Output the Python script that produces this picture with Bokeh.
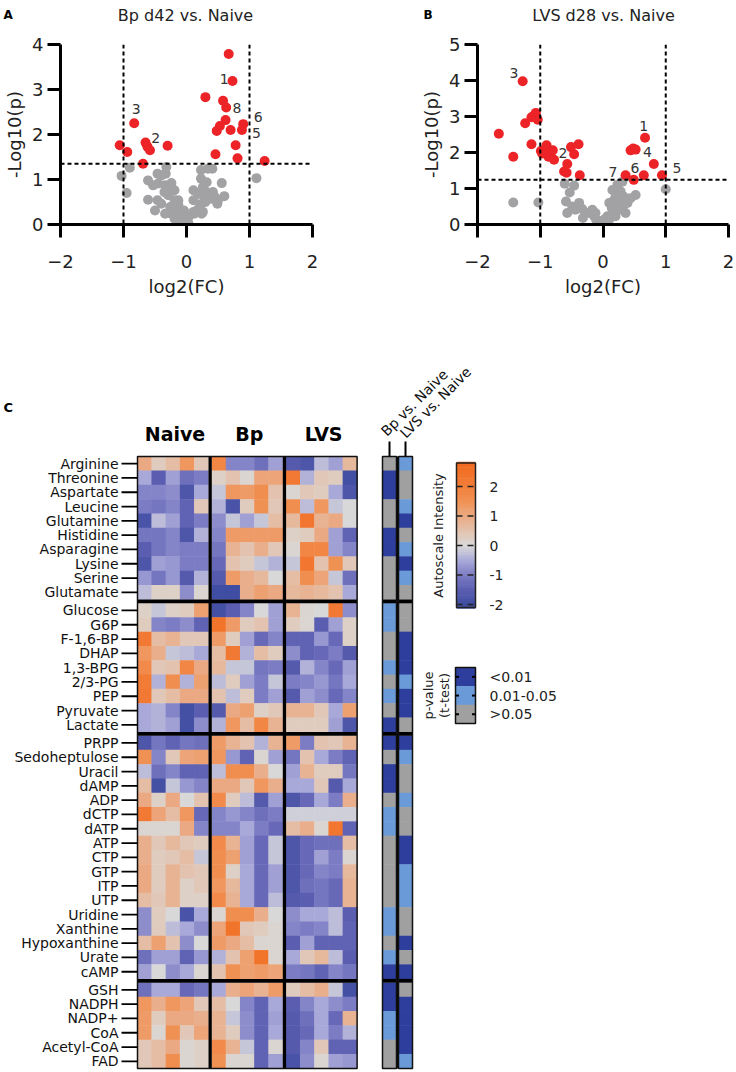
import numpy as np
from bokeh.plotting import figure
from bokeh.models import Range1d, Label, Span, LinearColorMapper, ColumnDataSource
from bokeh.layouts import column, row
from bokeh.embed import file_html
from bokeh.resources import INLINE
from bokeh.core.properties import value
from bokeh.transform import transform

FONT = "DejaVu Sans"

# ---------------- Volcano A : Bp d42 vs. Naive ----------------
a_sig_x = [0.67, 0.73, 0.30, 0.58, 0.63, 0.62, 0.53, 0.48, 0.70, 0.90, 0.88, 0.78, 0.81, 0.46, 1.24,
           -0.83, -0.65, -0.62, -0.58, -0.30, -1.06, -0.94, -0.69]
a_sig_y = [3.79, 3.19, 2.83, 2.75, 2.60, 2.32, 2.19, 2.08, 2.10, 2.23, 2.10, 1.76, 1.47, 1.56, 1.41,
           2.25, 1.82, 1.73, 1.65, 1.75, 1.76, 1.61, 1.35]
a_ns_x = [-0.90, -1.03, -0.95, -0.61, -0.46, -0.32, -0.33, -0.40, -0.45, -0.34, -0.24, -0.61, -0.46, -0.40,
          -0.29, -0.19, -0.13, -0.26, -0.50, -0.34, -0.24, -0.19, -0.11, -0.05, 0.00, 0.03, -0.08, -0.13,
          -0.19, 0.23, 0.34, 0.41, 0.23, 0.32, 0.26, 0.56, 0.11, 0.19, 0.32, 0.42, 0.40, 0.29, 0.21, 0.16,
          0.12, 0.24, 0.30, 0.50, 0.60, 0.45, 0.49, 0.24, 0.11, 1.11, -0.35, -0.53, -0.29, -0.13, -0.04,
          0.03, 0.11, 0.26, -0.19]
a_ns_y = [1.26, 1.08, 0.70, 0.98, 1.13, 1.28, 1.13, 1.09, 0.91, 0.87, 0.92, 0.55, 0.54, 0.46,
          0.65, 0.54, 0.45, 0.39, 0.31, 0.24, 0.24, 0.13, 0.09, 0.05, 0.01, 0.03, 0.24, 0.35,
          0.31, 1.21, 1.24, 1.24, 1.02, 0.94, 0.83, 0.92, 0.76, 0.68, 0.72, 0.72, 0.57, 0.54, 0.39, 0.31,
          0.24, 0.24, 0.50, 0.54, 0.63, 0.61, 0.46, 0.46, 0.54, 1.03, 0.72, 0.87, 0.76, 0.54, 0.31,
          0.16, 0.28, 0.28, 0.76]
a_lab_text = ["1", "8", "6", "5", "3", "2"]
a_lab_x = [0.60, 0.80, 1.14, 1.11, -0.80, -0.49]
a_lab_y = [3.24, 2.60, 2.40, 2.04, 2.56, 1.93]
a_fc_cut = [-1, 1]
a_p_cut = 1.35
a_yticks = [0, 1, 2, 3, 4]

# ---------------- Volcano B : LVS d28 vs. Naive ----------------
b_sig_x = [-1.28, -1.24, -1.14, -1.10, -1.07, -1.04, -1.66, -1.43, -1.14, -0.99, -0.90, -0.91, -0.87, -0.80,
           -0.78, -0.97, -0.51, -0.39, -0.46, -0.57, -0.62, -0.58, -0.37, 0.67, 0.44, 0.48, 0.52, 0.81,
           0.65, 0.36, 0.49, 0.94]
b_sig_y = [3.98, 2.81, 2.98, 3.03, 3.10, 2.91, 2.52, 1.88, 2.23, 2.04, 2.20, 1.97, 1.88, 2.06,
           1.80, 1.97, 2.15, 2.23, 1.95, 1.68, 1.47, 1.44, 1.37, 2.41, 2.06, 2.11, 2.08, 1.68,
           1.37, 1.37, 1.24, 1.37]
b_ns_x = [-1.43, -1.03, -0.61, -0.53, -0.46, -0.59, -0.57, -0.38, -0.33, -0.32, -0.22, -0.17, -0.14, -0.11,
          -0.06, -0.01, 0.04, 0.10, 0.15, 0.14, 0.18, 0.20, 0.23, 0.31, 0.27, 0.33, 0.39, 0.36, 0.25,
          0.20, 0.44, 0.52, 0.28, 1.00, 0.07, 0.02, -0.12, 0.15, 0.31, 0.23, -0.49, -0.44, -0.28, 0.15, 0.10]
b_ns_y = [0.61, 0.61, 1.13, 0.89, 1.08, 0.64, 0.32, 0.60, 0.43, 0.18, 0.32, 0.41, 0.23, 0.14,
          0.09, 0.05, 0.06, 0.14, 0.27, 0.46, 0.69, 0.87, 1.10, 1.19, 0.69, 0.78, 0.60, 0.32, 0.41,
          0.23, 0.73, 0.82, 0.92, 0.98, 0.23, 0.14, 0.32, 0.60, 0.50, 0.50, 0.50, 0.41, 0.32, 0.96, 0.60]
b_lab_text = ["3", "2", "1", "4", "6", "5", "7"]
b_lab_x = [-1.42, -0.64, 0.65, 0.71, 0.51, 1.18, 0.16]
b_lab_y = [4.21, 1.99, 2.75, 2.01, 1.56, 1.56, 1.45]
b_fc_cut = [-1, 1]
b_p_cut = 1.24
b_yticks = [0, 1, 2, 3, 4, 5]

x_ticks = [-2, -1, 0, 1, 2]
panel_letters = ["A", "B"]
panel_titles = ["Bp d42 vs. Naive", "LVS d28 vs. Naive"]

# ---------------- Heatmap (C) ----------------
amino_names = ["Arginine", "Threonine", "Aspartate", "Leucine", "Glutamine", "Histidine",
               "Asparagine", "Lysine", "Serine", "Glutamate"]
amino_vals = [
    [1.0, 0.3, 0.6, 1.4, 0.4, 1.8, -0.9, -0.9, -1.2, -0.6, -1.6, -1.7, -0.3, -0.6, 0.7],
    [-0.5, -1.5, -0.6, -1.2, -1.0, 0.2, 0.5, 0.1, 1.1, 1.1, 2.2, -0.4, 0.4, 0.3, -1.9],
    [-0.9, -0.9, -0.8, -1.7, -0.5, -0.2, 1.4, 1.3, 1.6, 0.5, 0.1, 0.4, 0.3, -0.5, -1.7],
    [-1.0, -1.1, -0.9, -1.4, 0.4, -0.4, -1.8, 0.3, 1.5, 0.4, 1.6, -0.3, 1.4, -0.2, 0.0],
    [-1.8, -0.3, -0.6, -1.4, -1.0, -0.8, -0.2, -0.6, -0.2, 0.6, 0.7, 2.3, 0.8, 1.0, 0.0],
    [-1.1, -1.1, -0.9, -1.7, -0.4, -0.9, 1.3, 1.3, 1.3, 1.3, 0.2, 0.3, 1.0, -0.6, -1.4],
    [-1.5, -1.1, -0.9, -1.0, -1.0, -1.1, 0.8, 0.5, 0.9, 0.4, 0.1, 1.8, 1.8, -0.6, -0.9],
    [-1.7, -0.6, -0.7, -1.0, -1.0, -1.3, 0.5, 0.3, -0.2, -0.4, -0.2, 2.3, 0.5, 1.5, 0.4],
    [-0.7, -1.1, -0.7, -1.6, -0.4, -1.6, 1.3, 0.9, 0.7, 0.0, 0.6, 1.6, 1.1, -0.2, -1.2],
    [-0.3, 0.2, 0.2, -0.8, 0.1, -2.0, -2.0, 0.9, 1.2, 1.0, 0.7, 0.8, 0.7, 0.5, -0.5],
]
glyco_names = ["Glucose", "G6P", "F-1,6-BP", "DHAP", "1,3-BPG", "2/3-PG", "PEP", "Pyruvate", "Lactate"]
glyco_vals = [
    [0.2, -0.2, 0.2, 0.3, 1.2, -1.9, -1.5, -0.9, 0.0, -0.6, 0.8, 0.1, 0.0, 2.2, -0.8],
    [0.3, -0.9, -1.0, -0.8, -1.4, 2.4, 1.3, 0.3, 0.5, -0.6, 0.3, 0.1, -1.5, -0.6, 0.2],
    [2.2, 0.6, 0.8, 0.4, 0.4, 1.3, 0.3, -0.6, -1.3, -0.9, -1.4, -1.4, -0.7, -1.3, 0.2],
    [1.4, 0.9, -0.2, -0.3, -0.5, 0.6, 2.2, -0.4, 0.6, 0.3, -0.8, -1.4, -1.3, -1.0, -1.6],
    [1.7, 0.4, 0.5, 1.8, 1.0, 0.7, -0.2, -0.2, -1.1, -1.0, -1.6, -0.4, -0.9, -1.3, -0.6],
    [2.1, -0.4, 1.6, -0.4, 1.2, -0.3, 0.3, -0.6, -1.0, -0.2, -1.0, -0.9, -0.7, -1.1, -0.5],
    [2.2, 0.4, 0.6, 1.0, 1.0, 0.5, -0.3, 0.3, -1.0, -0.6, -1.6, -0.6, -0.8, -1.3, -0.9],
    [-0.5, -0.4, -0.9, -1.9, -1.5, -1.6, 1.0, 1.2, 0.2, 0.4, 0.8, 0.8, 0.4, -0.5, 1.2],
    [-0.5, -0.4, -0.6, -1.9, -0.8, -0.4, 1.4, 0.6, 1.8, 0.8, 0.3, 0.3, 0.3, -0.6, -1.7],
]
nucleo_names = ["PRPP", "Sedoheptulose", "Uracil", "dAMP", "ADP", "dCTP", "dATP", "ATP", "CTP", "GTP",
                "ITP", "UTP", "Uridine", "Xanthine", "Hypoxanthine", "Urate", "cAMP"]
nucleo_vals = [
    [-1.7, -1.1, -1.4, -1.1, -1.2, 1.3, 0.8, 0.5, -0.4, 0.8, 1.3, -1.0, 0.5, 0.4, 0.8],
    [1.5, -0.9, 0.4, 1.1, 1.2, 1.4, -0.7, -1.4, 0.1, -0.6, -1.1, 0.5, -0.5, -1.0, -1.4],
    [-0.3, -1.2, -0.9, -1.4, -1.4, -0.3, 1.6, 1.6, 0.9, 0.0, -0.6, 0.8, 0.3, 0.3, -1.1],
    [0.6, -1.9, -0.2, -0.7, -0.9, 1.0, 1.0, 0.4, 1.4, 0.9, -0.5, -0.5, 0.4, -1.6, -0.5],
    [1.0, 0.2, 1.0, 0.0, 0.5, 1.7, 0.3, -0.3, -1.6, -0.6, -1.7, -1.3, -0.5, -1.0, 0.9],
    [2.2, 1.1, 0.6, 1.4, -1.3, -0.9, -0.7, -0.9, -1.2, -1.0, -0.1, -0.1, -0.1, -0.1, -0.1],
    [0.1, 0.1, 0.1, 1.0, -0.9, -0.9, -0.9, -0.5, -1.0, -1.3, 0.6, 0.9, 0.1, 2.3, -1.4],
    [0.9, 0.4, 0.7, 0.4, 0.3, 1.7, 0.8, -0.6, -1.3, -0.2, -1.7, -1.3, -1.2, -1.2, 0.6],
    [0.9, 0.3, 0.4, 0.6, -0.2, 1.6, 1.2, -0.6, -1.3, -0.2, -1.7, -1.3, -0.6, -1.0, 0.1],
    [1.0, 0.3, 0.8, 0.5, 0.4, 1.6, 0.2, -0.5, -1.3, -0.6, -1.7, -1.3, -0.9, -1.0, 0.7],
    [1.0, 0.3, 0.8, 0.2, 0.4, 1.4, 0.7, -0.5, -1.3, -0.6, -1.7, -1.2, -1.1, -1.3, 0.8],
    [0.6, 0.4, 0.8, 0.2, 0.2, 1.7, 0.8, -0.5, -1.3, -0.3, -1.6, -1.5, -1.1, -1.3, 0.8],
    [-0.8, 0.3, 0.0, -1.8, -0.5, 0.1, 1.6, 1.6, 0.9, 0.0, -0.8, -0.5, -0.5, -0.3, -1.5],
    [-0.8, 0.3, -0.3, -0.5, -0.8, 1.1, 2.4, 0.4, 0.3, 0.1, -0.9, -1.0, -0.9, -0.3, -1.4],
    [0.6, 1.2, 0.5, -0.8, 0.0, 1.3, 1.0, 0.6, 0.1, 0.1, -1.5, -0.6, -1.4, -1.4, -1.4],
    [-1.2, -0.6, -0.6, -1.4, -0.7, -0.4, 0.5, 1.2, 2.4, 0.1, -0.5, 0.4, 0.7, -0.3, -1.5],
    [-0.6, 0.0, -0.8, -0.5, 0.1, 0.5, 1.5, 1.2, 1.3, 1.1, -1.0, -1.1, -1.4, -0.9, -1.1],
]
cofac_names = ["GSH", "NADPH", "NADP+", "CoA", "Acetyl-CoA", "FAD"]
cofac_vals = [
    [-1.2, -0.5, -0.5, -1.3, -1.1, -0.5, 0.9, 1.1, 0.8, 1.3, 0.3, 0.6, 0.9, -0.2, -1.9],
    [1.4, 0.9, 1.4, 1.1, 0.4, 0.6, 0.0, -0.9, -1.4, -0.5, -1.5, -0.9, -0.5, -0.8, -1.0],
    [1.3, 0.3, 1.0, 1.0, 0.9, 0.8, -0.2, -0.8, -1.4, -0.6, -1.6, -1.2, -0.5, -1.3, 0.8],
    [1.3, 0.1, 1.5, 0.4, 1.1, 0.8, 0.3, -0.8, -1.4, -0.5, -1.6, -1.3, -0.5, -1.0, -0.4],
    [0.4, 0.6, 1.0, 0.1, 0.2, 1.7, 0.8, -0.2, -1.4, 0.1, -1.6, -0.9, 0.4, -1.4, -1.4],
    [0.4, 0.6, 1.6, 0.1, 0.2, 1.5, 0.1, 0.1, -1.4, -0.6, -1.8, -0.8, 0.1, -0.6, -0.7],
]
group_names = ["Naive", "Bp", "LVS"]
# p-value class: 2 = <0.01, 1 = 0.01-0.05, 0 = >0.05
p_bp = [0, 2, 2, 0, 0, 2, 2, 0, 0, 0,
        1, 1, 0, 0, 1, 0, 1, 0, 2,
        2, 0, 2, 2, 0, 1, 1, 0, 0, 0, 0, 0, 1, 1, 0, 1, 2,
        2, 2, 1, 1, 0, 0]
p_lvs = [1, 0, 0, 1, 2, 0, 1, 2, 1, 0,
         0, 0, 2, 2, 2, 1, 2, 2, 0,
         2, 1, 0, 0, 1, 0, 0, 2, 2, 1, 1, 1, 0, 0, 2, 0, 2,
         0, 2, 2, 2, 2, 1]
p_classes = [2, 1, 0]
p_class_labels = ["<0.01", "0.01-0.05", ">0.05"]
p_columns = ["Bp vs. Naive", "LVS vs. Naive"]
cbar_ticks = [2, 1, 0, -1, -2]
cbar_low, cbar_high = -2.1, 2.8

# ---------------- styles ----------------
RED = "#EC2327"
GREY = "#A2A2A4"
P_COLORS = {0: "#A0A0A0", 1: "#6A9BD8", 2: "#2D3E9C"}
anch_v = [-2.1, -1.5, -1.0, -0.5, 0.0, 0.5, 1.0, 1.5, 2.0, 2.8]
anch_c = ["#3A4A9F", "#5A5DB0", "#7C7CC4", "#A9A9D9", "#D9D9D9", "#E3C3AE", "#EBA982", "#F09255",
          "#F27E3A", "#F26A1E"]


def hex2rgb(h):
    return [int(h[i:i + 2], 16) for i in (1, 3, 5)]


rgb = np.array([hex2rgb(c) for c in anch_c], dtype=float)
pal_v = np.linspace(cbar_low, cbar_high, 256)
palette = []
for v in pal_v:
    r, g, b = (int(round(np.interp(v, anch_v, rgb[:, k]))) for k in range(3))
    palette.append("#%02X%02X%02X" % (r, g, b))
mapper = LinearColorMapper(palette=palette, low=cbar_low, high=cbar_high)

HEAD_H = 26

# header strip with panel letters and titles (page-pixel coordinates)
head = figure(width=736, height=HEAD_H, x_range=Range1d(0, 736), y_range=Range1d(HEAD_H, 0),
              x_axis_type=None, y_axis_type=None, min_border=0, toolbar_location=None,
              output_backend="svg")
head.outline_line_color = None
head.text(x=[3, 423], y=[14, 14], text=panel_letters, text_font=value(FONT), text_font_size="12px",
          text_font_style="bold", text_align="left", text_baseline="middle", text_color="black")
head.text(x=[185, 603], y=[15, 15], text=panel_titles, text_font=value(FONT), text_font_size="16px",
          text_align="center", text_baseline="middle", text_color="#222222")


def volcano(sx, sy, nx, ny, lt, lx, ly, yticks, fc_cut, p_cut, bl, br):
    W, H, TOPB, FH = 368, 308 - HEAD_H, 18, 180
    ymax = yticks[-1]
    p = figure(width=W, height=H, x_range=Range1d(-2, 2), y_range=Range1d(0, ymax),
               min_border_left=bl, min_border_right=br, min_border_top=TOPB,
               min_border_bottom=H - TOPB - FH, toolbar_location=None, output_backend="svg")
    p.grid.visible = False
    p.outline_line_color = None
    p.xaxis.ticker = x_ticks
    p.yaxis.ticker = yticks
    for ax in p.axis:
        ax.axis_line_width = 3
        ax.axis_line_color = "black"
        ax.major_tick_line_width = 3
        ax.major_tick_out = 13
        ax.major_tick_in = 0
        ax.minor_tick_line_color = None
        ax.major_label_text_font = FONT
        ax.major_label_text_font_size = "18px"
        ax.major_label_text_color = "#222222"
        ax.axis_label_text_font = FONT
        ax.axis_label_text_font_size = "18px"
        ax.axis_label_text_font_style = "normal"
        ax.axis_label_text_color = "#222222"
    p.xaxis.axis_label = "log2(FC)"
    p.yaxis.axis_label = "-Log10(p)"
    p.xaxis.major_label_standoff = 17
    p.yaxis.major_label_standoff = 4
    p.xaxis.axis_label_standoff = 5
    p.yaxis.axis_label_standoff = 4
    for c in fc_cut:
        p.add_layout(Span(location=c, dimension="height", line_color="black",
                          line_width=2, line_dash="4 3"))
    p.add_layout(Span(location=p_cut, dimension="width", line_color="black",
                      line_width=2, line_dash="4 3"))
    p.scatter(nx, ny, size=10, fill_color=GREY, line_color=None)
    p.scatter(sx, sy, size=10, fill_color=RED, line_color=None)
    p.text(x=lx, y=ly, text=lt, text_font=value(FONT), text_font_size="14px",
           text_align="center", text_baseline="middle", text_color="#333333")
    return p


pA = volcano(a_sig_x, a_sig_y, a_ns_x, a_ns_y, a_lab_text, a_lab_x, a_lab_y, a_yticks,
             a_fc_cut, a_p_cut, 60, 56)
pB = volcano(b_sig_x, b_sig_y, b_ns_x, b_ns_y, b_lab_text, b_lab_x, b_lab_y, b_yticks,
             b_fc_cut, b_p_cut, 109, 8)

# ---------------- heatmap figure (coordinates = page pixels) ----------------
Y0, Y1 = 308, 1072
heat = figure(width=736, height=Y1 - Y0, x_range=Range1d(0, 736), y_range=Range1d(Y1, Y0),
              x_axis_type=None, y_axis_type=None, min_border=0, toolbar_location=None,
              output_backend="svg")
heat.outline_line_color = None

TOP, ROW_H, GAP_Y = 456.0, 14.3, 3.8
LEFT, COL_W, GAP_X = 137.0, 14.2, 3.3

groups = [(amino_names, amino_vals), (glyco_names, glyco_vals),
          (nucleo_names, nucleo_vals), (cofac_names, cofac_vals)]
names, row_y, row_vals, bounds = [], [], [], []
i = 0
for g, (nm, vals) in enumerate(groups):
    if g > 0:
        bounds.append(TOP + i * ROW_H + g * GAP_Y - GAP_Y / 2)
    for n, v in zip(nm, vals):
        names.append(n)
        row_y.append(TOP + i * ROW_H + g * GAP_Y + ROW_H / 2)
        row_vals.append(v)
        i += 1
BOTTOM = TOP + i * ROW_H + (len(groups) - 1) * GAP_Y
n_cols = len(row_vals[0])
col_x = [LEFT + j * COL_W + (j // 5) * GAP_X + COL_W / 2 for j in range(n_cols)]
RIGHT = LEFT + n_cols * COL_W + 2 * GAP_X

cx, cy, cv = [], [], []
for r, vals in enumerate(row_vals):
    for j, v in enumerate(vals):
        cx.append(col_x[j])
        cy.append(row_y[r])
        cv.append(v)
heat.rect(x="x", y="y", width=COL_W + 0.5, height=ROW_H + 0.5,
          source=ColumnDataSource(dict(x=cx, y=cy, v=cv)),
          fill_color=transform("v", mapper), line_color=None)
# group separators
heat.segment(x0=[LEFT] * len(bounds), x1=[RIGHT] * len(bounds), y0=bounds, y1=bounds,
             line_color="black", line_width=GAP_Y)
vsep = [LEFT + 5 * COL_W + GAP_X / 2, LEFT + 10 * COL_W + 1.5 * GAP_X]
heat.segment(x0=vsep, x1=vsep, y0=[TOP] * 2, y1=[BOTTOM] * 2, line_color="black", line_width=GAP_X)
heat.quad(left=[LEFT], right=[RIGHT], top=[TOP], bottom=[BOTTOM], fill_color=None,
          line_color="#111111", line_width=1.5)
# row labels and ticks
heat.segment(x0=[121] * len(names), x1=[LEFT] * len(names), y0=row_y, y1=row_y,
             line_color="black", line_width=1.8)
heat.text(x=[118] * len(names), y=row_y, text=names, text_font=value(FONT),
          text_font_size="14px", text_align="right", text_baseline="middle", text_color="#111111")
# group headers
hx = [LEFT + (k * 5 + 2.5) * COL_W + k * GAP_X + 2 for k in range(3)]
heat.text(x=hx, y=[433] * 3, text=group_names, text_font=value(FONT), text_font_size="19px",
          text_font_style="bold", text_align="center", text_baseline="middle", text_color="black")
heat.text(x=[3], y=[407], text=["C"], text_font=value(FONT), text_font_size="13px",
          text_font_style="bold", text_align="left", text_baseline="middle", text_color="black")

# p-value columns
PX0, PW, PG = 382.0, 14.0, 2.0
pcx = [PX0 + PW / 2, PX0 + PW + PG + PW / 2]
px_, py_, pc_ = [], [], []
for k, cls_list in enumerate([p_bp, p_lvs]):
    for r, cls in enumerate(cls_list):
        px_.append(pcx[k])
        py_.append(row_y[r])
        pc_.append(P_COLORS[cls])
heat.rect(x=px_, y=py_, width=PW + 0.5, height=ROW_H + 0.5, fill_color=pc_, line_color=None)
PR = PX0 + 2 * PW + PG
heat.segment(x0=[PX0] * len(bounds), x1=[PR] * len(bounds), y0=bounds, y1=bounds,
             line_color="black", line_width=GAP_Y)
heat.segment(x0=[PX0 + PW + PG / 2], x1=[PX0 + PW + PG / 2], y0=[TOP], y1=[BOTTOM],
             line_color="black", line_width=2.2)
heat.quad(left=[PX0, PX0 + PW + PG], right=[PX0 + PW, PR], top=[TOP] * 2, bottom=[BOTTOM] * 2,
          fill_color=None, line_color="#111111", line_width=1.5)
heat.segment(x0=pcx, x1=pcx, y0=[441] * 2, y1=[TOP] * 2, line_color="black", line_width=2)
for k, txt in enumerate(p_columns):
    heat.add_layout(Label(x=[383, 402][k], y=[433, 435][k], text=txt, angle=np.pi / 4,
                          text_font=FONT, text_font_size="14px", text_align="left",
                          text_baseline="middle", text_color="#111111"))

# colour bar (manual)
CB0, CB1, Z0, UPX = 456.0, 475.0, 545.0, 29.5
lev = np.linspace(cbar_low, cbar_high, 80)
step = lev[1] - lev[0]
lev_cols = [palette[int(round((v - cbar_low) / (cbar_high - cbar_low) * 255))] for v in lev]
heat.rect(x=[(CB0 + CB1) / 2] * len(lev), y=[Z0 - v * UPX for v in lev], width=CB1 - CB0,
          height=step * UPX + 0.6, fill_color=lev_cols, line_color=None)
heat.quad(left=[CB0], right=[CB1], top=[Z0 - cbar_high * UPX], bottom=[Z0 - cbar_low * UPX],
          fill_color=None, line_color="#222222", line_width=1.5)
ty = [Z0 - t * UPX for t in cbar_ticks]
heat.segment(x0=[CB0] * 5, x1=[CB1] * 5, y0=ty, y1=ty, line_color="#222222", line_width=1.6,
             line_dash="6 5")
heat.text(x=[489] * 5, y=ty, text=[str(t) for t in cbar_ticks], text_font=value(FONT),
          text_font_size="14px", text_align="left", text_baseline="middle", text_color="#222222")
heat.add_layout(Label(x=438, y=535, text="Autoscale Intensity", angle=np.pi / 2, text_font=FONT,
                      text_font_size="13px", text_align="center", text_baseline="middle",
                      text_color="#222222"))

# p-value legend
LG0, LG1, LGT, LGH = 455.0, 475.0, 667.0, 18.7
lg_y = [LGT + (k + 0.5) * LGH for k in range(3)]
heat.rect(x=[(LG0 + LG1) / 2] * 3, y=lg_y, width=LG1 - LG0, height=LGH + 0.3,
          fill_color=[P_COLORS[c] for c in p_classes], line_color=None)
heat.quad(left=[LG0], right=[LG1], top=[LGT], bottom=[LGT + 3 * LGH], fill_color=None,
          line_color="#111111", line_width=1.5)
heat.segment(x0=[LG0] * 3 + [LG1 - 3.5] * 3, x1=[LG0 + 3.5] * 3 + [LG1] * 3, y0=lg_y * 2,
             y1=lg_y * 2, line_color="black", line_width=2)
heat.text(x=[489] * 3, y=lg_y, text=p_class_labels, text_font=value(FONT), text_font_size="14px",
          text_align="left", text_baseline="middle", text_color="#222222")
for k, txt in enumerate(["p-value", "(t-test)"]):
    heat.add_layout(Label(x=[428, 444][k], y=695, text=txt, angle=np.pi / 2, text_font=FONT,
                          text_font_size="13px", text_align="center", text_baseline="middle",
                          text_color="#222222"))

layout = column(head, row(pA, pB), heat)
open("out.html", "w").write(file_html(layout, INLINE))
